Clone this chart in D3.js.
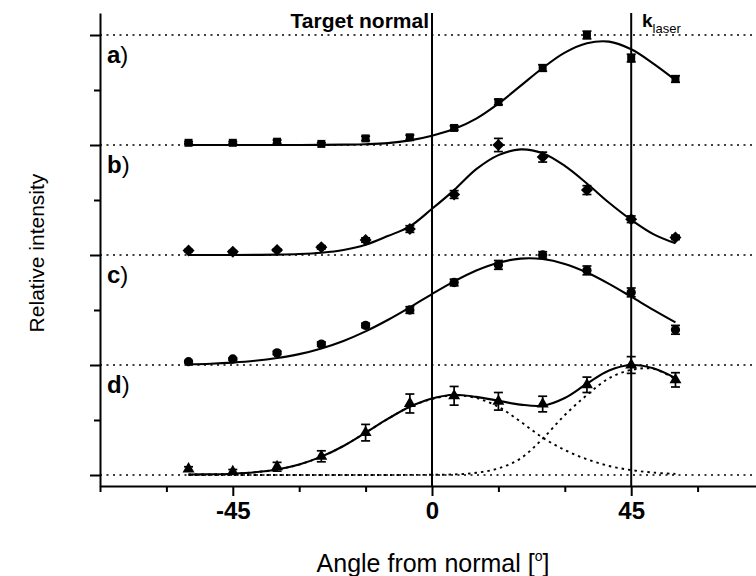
<!DOCTYPE html>
<html><head><meta charset="utf-8">
<script src="https://cdn.jsdelivr.net/npm/d3@7"></script>
<style>body{margin:0;background:#fff}svg{display:block}text{font-family:"Liberation Sans",Arial,sans-serif;fill:#000}</style>
</head><body><svg id="c" width="756" height="576"></svg>
<script>
// ---- data ----
const angles = [-55,-45,-35,-25,-15,-5,5,15,25,35,45,55];
const aVals = [0.02,0.02,0.03,0.01,0.06,0.07,0.155,0.39,0.70,1.0,0.79,0.60];
const aErr  = [0.01,0.01,0.015,0.01,0.02,0.02,0.02,0.025,0.03,0.035,0.035,0.03];
const bVals = [0.04,0.03,0.045,0.07,0.136,0.236,0.55,1.0,0.89,0.59,0.325,0.16];
const bErr  = [0.01,0.01,0.01,0.015,0.02,0.03,0.035,0.06,0.045,0.04,0.03,0.02];
const cVals = [0.03,0.055,0.11,0.19,0.36,0.5,0.75,0.91,1.0,0.86,0.66,0.32];
const cErr  = [0.01,0.01,0.015,0.02,0.02,0.03,0.03,0.04,0.03,0.04,0.04,0.04];
const dVals = [0.055,0.03,0.075,0.17,0.385,0.65,0.72,0.67,0.645,0.82,1.0,0.865];
const dErr  = [0.02,0.02,0.04,0.05,0.075,0.086,0.085,0.08,0.071,0.07,0.076,0.065];

const fitAngles = [-55,-50,-45,-40,-35,-30,-25,-20,-15,-10,-5,0,5,10,15,20,25,30,35,40,45,50,55];
const aFit = [0,0,0,0,0,0,0.001,0.003,0.007,0.017,0.042,0.085,0.145,0.24,0.376,0.537,0.70,0.84,0.925,0.94,0.87,0.74,0.59];
const bFit = [0,0,0,0.001,0.003,0.0085,0.021,0.046,0.093,0.172,0.26,0.42,0.59,0.78,0.908,0.96,0.925,0.81,0.65,0.475,0.32,0.19,0.106];
const cFit = [0.007,0.012,0.022,0.038,0.063,0.099,0.151,0.219,0.306,0.409,0.524,0.645,0.76,0.859,0.93,0.967,0.963,0.919,0.841,0.738,0.621,0.501,0.387];
const dFit = [0.005,0.007,0.012,0.025,0.05,0.095,0.167,0.264,0.385,0.51,0.62,0.695,0.73,0.71,0.675,0.64,0.63,0.70,0.83,0.95,1.0,0.97,0.88];
const dPeak1 = [0.004,0.006,0.012,0.025,0.05,0.095,0.167,0.264,0.385,0.51,0.62,0.69,0.725,0.70,0.62,0.485,0.34,0.227,0.143,0.082,0.045,0.022,0.01];
const dPeak2 = [0,0,0,0,0,0,0,0,0,0,0.001,0.002,0.005,0.02,0.06,0.15,0.33,0.545,0.727,0.88,0.955,0.965,0.87];

const panelLabels = ["a","b","c","d"];
const xMajorTicks = [-45,0,45];
const xMinorTicks = [-75,-60,-30,-15,15,30,60,75];
const yMajorTicks = [0,1,2,3,4];
const yMinorTicks = [0.5,1.5,2.5,3.5];
const refLines = [0,45];

// ---- drawing ----
const svg = d3.select("#c");
const x = d3.scaleLinear().domain([-75,75]).range([100,764]);
const y = d3.scaleLinear().domain([-0.1,4.2]).range([486,13]);

// dotted baselines
svg.append("g").selectAll("line").data(yMajorTicks).join("line")
  .attr("x1",100).attr("x2",756).attr("y1",d=>y(d)).attr("y2",d=>y(d))
  .attr("stroke","#000").attr("stroke-width",1.4).attr("stroke-dasharray","2,4.5");

// reference vertical lines
svg.append("g").selectAll("line").data(refLines).join("line")
  .attr("x1",d=>x(d)).attr("x2",d=>x(d)).attr("y1",y(4.2)).attr("y2",y(-0.1))
  .attr("stroke","#000").attr("stroke-width",2);

// axes
function styleAxis(g){ g.selectAll("path,line").attr("stroke","#000").attr("stroke-width",2); }
svg.append("g").attr("transform",`translate(0,${y(-0.1)})`)
  .call(d3.axisBottom(x).tickValues(xMajorTicks).tickSize(10).tickSizeOuter(0).tickPadding(6).tickFormat(d=>String(d)))
  .call(styleAxis)
  .call(g=>g.selectAll("text").attr("font-size",24).attr("font-weight","bold").attr("font-family","Liberation Sans, Arial, sans-serif").attr("fill","#000"));
svg.append("g").attr("transform",`translate(0,${y(-0.1)})`)
  .call(d3.axisBottom(x).tickValues(xMinorTicks).tickSize(6).tickSizeOuter(0).tickFormat(""))
  .call(styleAxis).call(g=>g.select(".domain").remove());
svg.append("g").attr("transform",`translate(${x(-75)},0)`)
  .call(d3.axisLeft(y).tickValues(yMajorTicks).tickSize(10).tickSizeOuter(0).tickFormat(""))
  .call(styleAxis);
svg.append("g").attr("transform",`translate(${x(-75)},0)`)
  .call(d3.axisLeft(y).tickValues(yMinorTicks).tickSize(6).tickSizeOuter(0).tickFormat(""))
  .call(styleAxis).call(g=>g.select(".domain").remove());

const line = d3.line().x(d=>x(d[0])).y(d=>y(d[1])).curve(d3.curveCatmullRom.alpha(0.5));

const panels = [
  {label:"a", off:3, vals:aVals, err:aErr, fit:aFit, sym:d3.symbolSquare, size:64, rot:0},
  {label:"b", off:2, vals:bVals, err:bErr, fit:bFit, sym:d3.symbolSquare, size:72, rot:45},
  {label:"c", off:1, vals:cVals, err:cErr, fit:cFit, sym:d3.symbolCircle, size:68, rot:0},
  {label:"d", off:0, vals:dVals, err:dErr, fit:dFit, sym:d3.symbolTriangle, size:62, rot:0}
];

// component peaks of d (dotted)
[dPeak1,dPeak2].forEach(arr=>{
  svg.append("path").datum(fitAngles.map((a,i)=>[a,arr[i]]))
    .attr("d",line).attr("fill","none").attr("stroke","#000").attr("stroke-width",1.9).attr("stroke-dasharray","2.5,4");
});

panels.forEach((p,pi)=>{
  const g = svg.append("g");
  g.append("path").datum(fitAngles.map((a,i)=>[a,p.fit[i]+p.off]))
    .attr("d",line).attr("fill","none").attr("stroke","#000").attr("stroke-width",2.1);
  const pts = angles.map((a,i)=>({a, v:p.vals[i]+p.off, e:p.err[i]}));
  const eb = g.append("g").attr("stroke","#000").attr("stroke-width",1.7);
  eb.selectAll(".v").data(pts).join("line").attr("x1",d=>x(d.a)).attr("x2",d=>x(d.a)).attr("y1",d=>y(d.v-d.e)).attr("y2",d=>y(d.v+d.e));
  eb.selectAll(".t").data(pts).join("line").attr("x1",d=>x(d.a)-4.5).attr("x2",d=>x(d.a)+4.5).attr("y1",d=>y(d.v+d.e)).attr("y2",d=>y(d.v+d.e));
  eb.selectAll(".b").data(pts).join("line").attr("x1",d=>x(d.a)-4.5).attr("x2",d=>x(d.a)+4.5).attr("y1",d=>y(d.v-d.e)).attr("y2",d=>y(d.v-d.e));
  g.selectAll("path.m").data(pts).join("path").attr("class","m")
    .attr("d",d3.symbol().type(p.sym).size(p.size))
    .attr("transform",d=>`translate(${x(d.a)},${y(d.v)}) rotate(${p.rot})`)
    .attr("fill","#000");
  const t = svg.append("text").attr("x",107).attr("y",y(p.off+1)+28).attr("font-size",24);
  t.append("tspan").attr("font-weight","bold").text(panelLabels[pi]);
  t.append("tspan").text(")");
});

// annotations
svg.append("text").attr("x",429).attr("y",28).attr("text-anchor","end")
  .attr("font-size",21).attr("font-weight","bold").text("Target normal");
const k = svg.append("text").attr("x",642).attr("y",27);
k.append("tspan").attr("font-size",19).attr("font-weight","bold").text("k");
k.append("tspan").attr("font-size",13).attr("dy",6).text("laser");

// axis titles
svg.append("text").attr("transform","translate(44,253) rotate(-90)").attr("text-anchor","middle")
  .attr("font-size",21).text("Relative intensity");
const xt = svg.append("text").attr("x",433).attr("y",572).attr("text-anchor","middle").attr("font-size",25);
xt.append("tspan").text("Angle from normal [");
xt.append("tspan").attr("font-size",14).attr("dy",-11).text("o");
xt.append("tspan").attr("dy",11).text("]");
</script></body></html>
